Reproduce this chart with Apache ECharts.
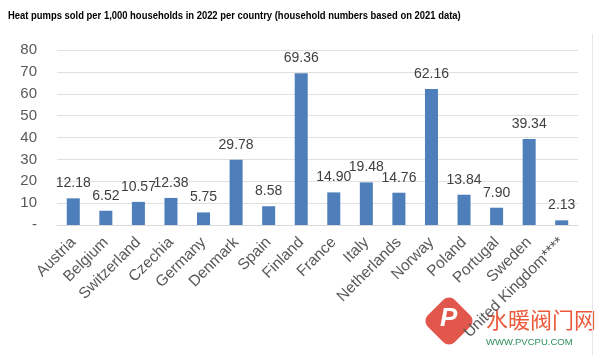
<!DOCTYPE html>
<html><head><meta charset="utf-8">
<script src="https://cdn.jsdelivr.net/npm/echarts@6/dist/echarts.min.js"></script>
<style>html,body{margin:0;padding:0;background:#fff}#c{width:600px;height:355px}</style>
</head><body><div id="c"></div>
<script>
const titleText = 'Heat pumps sold per 1,000 households in 2022 per country (household numbers based on 2021 data)';
const countries = ['Austria','Belgium','Switzerland','Czechia','Germany','Denmark','Spain','Finland','France','Italy','Netherlands','Norway','Poland','Portugal','Sweden','United Kingdom****'];
const soldPer1000 = [12.18,6.52,10.57,12.38,5.75,29.78,8.58,69.36,14.90,19.48,14.76,62.16,13.84,7.90,39.34,2.13];
const yTicks = [0,10,20,30,40,50,60,70,80];

const chart = echarts.init(document.getElementById('c'));
const font = 'Liberation Sans, Arial, sans-serif';
chart.setOption({
  animation: false,
  grid: {left: 57, right: 22, top: 50, bottom: 130},
  xAxis: {
    type: 'category', data: countries,
    axisLine: {lineStyle: {color: '#d9d9d9'}},
    axisTick: {show: false},
    axisLabel: {rotate: 45, fontSize: 15.5, color: '#595959', fontFamily: font, margin: 15, interval: 0}
  },
  yAxis: {
    type: 'value', min: yTicks[0], max: yTicks[yTicks.length-1], interval: 10,
    axisLine: {show: false}, axisTick: {show: false},
    splitLine: {lineStyle: {color: '#e0e0e0'}},
    axisLabel: {fontSize: 15, color: '#595959', fontFamily: font, margin: 20,
      formatter: v => v === 0 ? '-' : String(v)}
  },
  series: [{
    type: 'bar', data: soldPer1000, barCategoryGap: '60%',
    itemStyle: {color: '#4f7fbb'},
    label: {show: true, position: 'top', distance: 8, fontSize: 14, color: '#404040', fontFamily: font,
      formatter: p => p.value.toFixed(2)}
  }],
  graphic: [
    {type: 'text', x: 8, y: 10, scaleX: 0.82, scaleY: 1,
      style: {text: titleText, fontSize: 11.5, fontWeight: 'bold', fill: '#000', fontFamily: font}},
    {type: 'line', shape: {x1: 592.5, y1: 34, x2: 592.5, y2: 355}, style: {stroke: '#e6e6e6', lineWidth: 1}},
    {type: 'rect', shape: {x: 430, y: 302, width: 38, height: 38, r: 8}, rotation: Math.PI/4, originX: 449, originY: 321,
      style: {fill: '#e2574c'}, z: -1},
    {type: 'text', left: 440, top: 306, style: {text: 'P', fontSize: 26, fontStyle: 'italic', fontWeight: 'bold', fill: '#fff', fontFamily: font}, z: -1},
    {type: 'text', left: 486, top: 309, style: {text: '水暖阀门网', fontSize: 22, fill: '#ec5a3c', fontFamily: 'Noto Sans CJK SC'}, z: -1},
    {type: 'text', left: 486, top: 337, style: {text: 'WWW.PVCPU.COM', fontSize: 9.5, fill: '#2f8f5a', fontFamily: font}, z: -1}
  ]
});
</script></body></html>
